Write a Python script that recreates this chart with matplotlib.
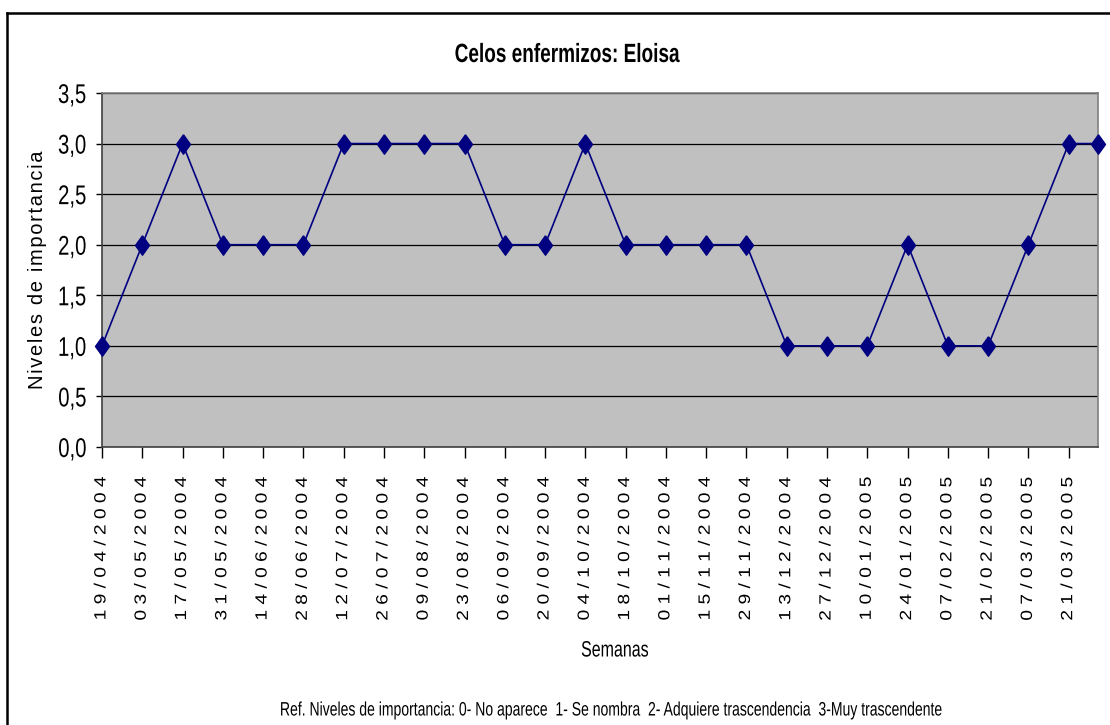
import numpy as np
import pandas as pd
import matplotlib
matplotlib.use("Agg")
import matplotlib.pyplot as plt
from matplotlib.lines import Line2D
from matplotlib.patheffects import AbstractPathEffect
from matplotlib.transforms import Affine2D

# data (one point every two weeks)
fechas = ["19/04/2004", "03/05/2004", "17/05/2004", "31/05/2004", "14/06/2004",
          "28/06/2004", "12/07/2004", "26/07/2004", "09/08/2004", "23/08/2004",
          "06/09/2004", "20/09/2004", "04/10/2004", "18/10/2004", "01/11/2004",
          "15/11/2004", "29/11/2004", "13/12/2004", "27/12/2004", "10/01/2005",
          "24/01/2005", "07/02/2005", "21/02/2005", "07/03/2005", "21/03/2005",
          "31/03/2005"]
niveles = [1, 2, 3, 2, 2, 2, 3, 3, 3, 3, 2, 2, 3, 2, 2, 2, 2, 1, 1, 1, 2, 1, 1, 2, 3, 3]
etiquetas = fechas[:-1]  # last point has no label
yticks = [0.0, 0.5, 1.0, 1.5, 2.0, 2.5, 3.0, 3.5]

font = ["Liberation Sans", "DejaVu Sans"]


# the original text looks horizontally condensed -> squeeze glyph paths
class Squeeze(AbstractPathEffect):
    def __init__(self, sx, anchor="center"):
        super().__init__()
        self.sx = sx
        self.anchor = anchor

    def draw_path(self, renderer, gc, tpath, affine, rgbFace=None):
        ext = tpath.get_extents(affine)
        cx = ext.x1 if self.anchor == "right" else (ext.x0 + ext.x1) / 2
        aff = affine + Affine2D().translate(-cx, 0).scale(self.sx, 1).translate(cx, 0)
        renderer.draw_path(gc, tpath, aff, rgbFace)


SX = 0.72

x = pd.to_datetime(fechas, dayfirst=True)
x_num = (x - x[0]).days.values
x_ticks = (pd.to_datetime(etiquetas, dayfirst=True) - x[0]).days.values

fig = plt.figure(figsize=(11.1, 7.25), dpi=100)
ax = fig.add_axes([102 / 1110, 1 - 447 / 725, (1097.5 - 102) / 1110, (447 - 93) / 725])
ax.set_facecolor("#c0c0c0")

# stretched diamond marker
diamond = [(0, 1), (0.72, 0), (0, -1), (-0.72, 0), (0, 1)]
ax.plot(x_num, niveles, color="#000080", lw=1.2, marker=diamond,
        markersize=14, markerfacecolor="#000080", markeredgecolor="#000080",
        clip_on=False, zorder=3)

ax.set_xlim(x_num[0], x_num[-1])
ax.set_ylim(0, 3.5)
ax.set_yticks(yticks)
ax.set_yticklabels([f"{v:.1f}".replace(".", ",") for v in yticks],
                   fontsize=19.5, family=font)
ax.yaxis.grid(True, color="black", lw=0.9)
ax.set_axisbelow(True)

ax.set_xticks(x_ticks)
ax.set_xticklabels([" ".join(e) for e in etiquetas], rotation=90,
                   fontsize=13.8, family=font, va="top")
ax.tick_params(axis="x", length=8, width=1, direction="out", pad=13)
ax.tick_params(axis="y", length=4, width=1, direction="out", pad=7)

for t in ax.get_yticklabels():
    t.set_path_effects([Squeeze(0.75, "right")])
for t in ax.get_xticklabels():
    t.set_path_effects([Squeeze(0.85)])

for s in ["left", "bottom"]:
    ax.spines[s].set_color("#404040")
    ax.spines[s].set_linewidth(1.2)
for s in ["top", "right"]:
    ax.spines[s].set_color("#808080")
    ax.spines[s].set_linewidth(1.2)

fig.text(567 / 1110, 1 - 55 / 725, "Celos enfermizos: Eloisa", ha="center",
         va="center", fontsize=19, fontweight="bold", family=font,
         path_effects=[Squeeze(SX)])
fig.text(38 / 1110, 1 - 270 / 725, "\u200a".join("Niveles de importancia"),
         rotation=90, ha="center", va="center", fontsize=14.5, family=font)
fig.text(615 / 1110, 1 - 651 / 725, "Semanas", ha="center", va="center",
         fontsize=16, family=font, path_effects=[Squeeze(SX)])
fig.text(614 / 1110, 1 - 711 / 725,
         "Ref. Niveles de importancia: 0- No aparece  1- Se nombra  "
         "2- Adquiere trascendencia  3-Muy trascendente",
         ha="center", va="center", fontsize=14, family=font,
         path_effects=[Squeeze(SX)])

# outer frame of the chart area (only left and top edges visible)
fig.add_artist(Line2D([7 / 1110, 7 / 1110], [0, 1 - 13 / 725],
                      transform=fig.transFigure, color="black", lw=1.8))
fig.add_artist(Line2D([7 / 1110, 1], [1 - 13 / 725, 1 - 13 / 725],
                      transform=fig.transFigure, color="black", lw=1.8))

fig.savefig("out.png", dpi=100)
